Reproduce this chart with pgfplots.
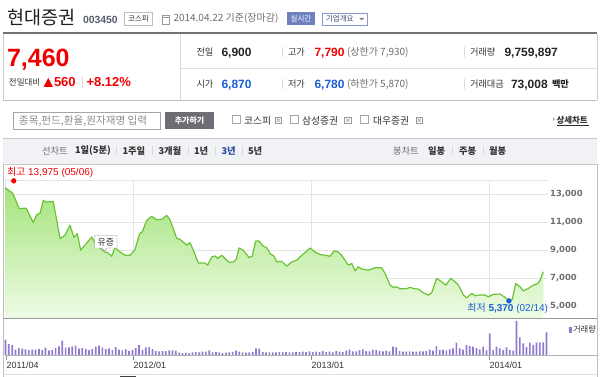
\documentclass[border=0pt]{standalone}
\usepackage{fontspec}
\setmainfont{Liberation Sans}
\newfontfamily\kr{Noto Sans CJK KR}
\newfontfamily\dv{DejaVu Sans}
\usepackage{pgfplots}
\usepackage{pgfplotstable}
\pgfplotsset{compat=1.18}
\newcommand\fs[1]{\fontsize{#1}{#1}\selectfont}
\definecolor{upred}{RGB}{240,0,0}
\definecolor{dnblue}{RGB}{25,95,215}
\definecolor{linegreen}{RGB}{104,196,50}
\definecolor{gtop}{RGB}{165,228,125}
\definecolor{gbot}{RGB}{238,251,228}
\definecolor{gridc}{RGB}{228,228,228}
\definecolor{volc}{RGB}{145,122,206}
\definecolor{txt}{RGB}{51,51,51}
\definecolor{lbl}{RGB}{110,110,110}
\definecolor{bandc}{RGB}{240,242,245}
\definecolor{codec}{RGB}{85,95,110}
\definecolor{rtblue}{RGB}{110,128,192}
\definecolor{boxblue}{RGB}{140,150,200}
\definecolor{selblue}{RGB}{40,70,160}
\definecolor{btn}{RGB}{108,110,116}

\pgfplotstableread{
t p
2011.281 13480
2011.324 13090
2011.361 11980
2011.399 12020
2011.440 10980
2011.459 11550
2011.478 11660
2011.496 12570
2011.515 12450
2011.552 12500
2011.590 9840
2011.618 10070
2011.646 10790
2011.669 9910
2011.687 10190
2011.706 9000
2011.740 9520
2011.768 9950
2011.787 9480
2011.815 9140
2011.843 8880
2011.861 8810
2011.880 8570
2011.899 9190
2011.927 8880
2011.955 8640
2011.983 8640
2012.011 9040
2012.037 10190
2012.052 10310
2012.077 11140
2012.105 11430
2012.133 11190
2012.161 11210
2012.189 11500
2012.208 11190
2012.246 9840
2012.264 9790
2012.302 9360
2012.320 9550
2012.339 9000
2012.367 8090
2012.404 8090
2012.420 7930
2012.442 8520
2012.461 8590
2012.476 8410
2012.498 8640
2012.517 8410
2012.541 8120
2012.563 8160
2012.579 8340
2012.596 9160
2012.620 9000
2012.652 8480
2012.670 8570
2012.689 9660
2012.708 9660
2012.732 9290
2012.751 9190
2012.770 8760
2012.792 8570
2012.807 8160
2012.835 8210
2012.863 7860
2012.892 8160
2012.920 8290
2012.948 8640
2012.976 8930
2012.994 9160
2013.022 8880
2013.051 8690
2013.079 8640
2013.107 8570
2013.129 8950
2013.153 8880
2013.172 8640
2013.210 7930
2013.229 8050
2013.247 7520
2013.266 7810
2013.285 7660
2013.322 7570
2013.360 7740
2013.397 7740
2013.416 7340
2013.444 6500
2013.462 6340
2013.481 6380
2013.500 6240
2013.538 6250
2013.556 6340
2013.575 6260
2013.603 6210
2013.637 5910
2013.659 5790
2013.678 5950
2013.706 6980
2013.734 6740
2013.757 6500
2013.785 6980
2013.809 6740
2013.828 6500
2013.856 5790
2013.875 5590
2013.903 5910
2013.921 5740
2013.949 5790
2013.978 5790
2013.996 5660
2014.024 5840
2014.062 5860
2014.086 5660
2014.112 5380
2014.131 5480
2014.150 6620
2014.174 6380
2014.193 6090
2014.221 6260
2014.249 6500
2014.274 6620
2014.287 6860
2014.305 7460
}\price

\begin{document}
\begin{tikzpicture}
\fill[white] (0pt,0pt) rectangle (600pt,-377pt);
\path[use as bounding box] (0pt,0pt) rectangle (600pt,-377pt);

\begin{scope}[x=1pt,y=-1pt, every node/.style={inner sep=0pt, outer sep=0pt}]
% ---------- header ----------
\node[anchor=west, text=black!88] at (7.5,18) {\kr\fs{18.5}현대증권};
\node[anchor=west, text=codec] at (83,19.5) {\bfseries\fs{10.4}003450};
\draw[black!25, fill=white] (124.5,12.5) rectangle (152.5,25);
\node[text=txt] at (138.5,18.8) {\kr\fs{7.5}코스피};
\draw[black!40] (162,15) rectangle (169,24);
\draw[black!40] (162,17) -- (169,17);
\node[anchor=west, text=lbl] at (173.5,18.5) {\kr\fs{10}2014.04.22 기준(장마감)};
\fill[rtblue] (287,12.5) rectangle (315,25);
\node[text=white] at (301,18.8) {\kr\fs{7.5}실시간};
\draw[boxblue, fill=white] (322.5,13) rectangle (367,25.5);
\node[anchor=west, text={rgb,255:red,60;green,70;blue,110}] at (326,19) {\kr\fs{7.5}기업개요};
\fill[black!50] (359.5,18) -- (364,18) -- (361.75,20.5) -- cycle;
\draw[line width=2pt, black!55] (3,33.5) -- (597,33.5);

% ---------- info table ----------
\draw[black!15] (180,34.5) -- (180,100.5);
\draw[black!12] (180,68.3) -- (597,68.3);
\draw[black!25] (3,100.5) -- (597,100.5);
\draw[black!20] (597,34.5) -- (597,100.5);
\draw[black!20] (3,34.5) -- (3,100.5);
\node[anchor=base west, text=upred] at (7,66.7) {\bfseries\fs{25}7,460};
\node[anchor=west, text=txt] at (9,82) {\kr\fs{8.5}전일대비};
\fill[upred] (43.5,87) -- (53,87) -- (48.25,78) -- cycle;
\node[anchor=base west, text=upred] at (54,86.7) {\bfseries\fs{13}560};
\draw[black!15] (82,77.5) -- (82,88);
\node[anchor=base west, text=upred] at (86.5,86.7) {\bfseries\fs{13}+8.12\%};
% row 1
\node[anchor=west, text=txt] at (196.5,52) {\kr\fs{9.2}전일};
\node[anchor=base west, text=black!85] at (221.5,57) {\bfseries\fs{12}6,900};
\draw[black!15] (282.5,47) -- (282.5,57);
\node[anchor=west, text=txt] at (288,52) {\kr\fs{9.2}고가};
\node[anchor=base west, text=upred] at (314.5,57) {\bfseries\fs{12}7,790};
\node[anchor=west, text=lbl] at (347,52) {\kr\fs{10}(상한가 7,930)};
\draw[black!15] (464.5,47) -- (464.5,57);
\node[anchor=west, text=txt] at (470,52) {\kr\fs{9.2}거래량};
\node[anchor=base west, text=black!85] at (504.5,57) {\bfseries\fs{12}9,759,897};
% row 2
\node[anchor=west, text=txt] at (196.5,84) {\kr\fs{9.2}시가};
\node[anchor=base west, text=dnblue] at (221.5,88.5) {\bfseries\fs{12}6,870};
\draw[black!15] (282.5,79) -- (282.5,89);
\node[anchor=west, text=txt] at (288,84) {\kr\fs{9.2}저가};
\node[anchor=base west, text=dnblue] at (314.5,88.5) {\bfseries\fs{12}6,780};
\node[anchor=west, text=lbl] at (347,84) {\kr\fs{10}(하한가 5,870)};
\draw[black!15] (464.5,79) -- (464.5,89);
\node[anchor=west, text=txt] at (470,84) {\kr\fs{9.2}거래대금};
\node[anchor=base west, text=black!85] at (511,88.5) {\bfseries\fs{12}73,008};
\node[anchor=west, text=black!85] at (552,84) {\kr\bfseries\fs{9.2}백만};

% ---------- search row ----------
\draw[black!35, fill=white] (13.5,112) rectangle (160,129);
\node[anchor=west, text=black!45] at (19,120.7) {\kr\fs{10.6}종목,펀드,환율,원자재명 입력};
\fill[btn] (165,112) rectangle (214,129.5);
\node[text=white] at (189.5,120.8) {\kr\bfseries\fs{8}추가하기};
\draw[black!35, fill=white] (232,115.5) rectangle (240,123.5);
\node[anchor=west, text=txt] at (244,120.5) {\kr\fs{9.8}코스피};
\draw[black!40] (275,117) rectangle (281.5,123.5);
\draw[black!40] (276.5,118.5) -- (280,122) (276.5,122) -- (280,118.5);
\draw[black!35, fill=white] (290,115.5) rectangle (298,123.5);
\node[anchor=west, text=txt] at (302,120.5) {\kr\fs{9.8}삼성증권};
\draw[black!40] (344.5,117) rectangle (351,123.5);
\draw[black!40] (346,118.5) -- (349.5,122) (346,122) -- (349.5,118.5);
\draw[black!35, fill=white] (360,115.5) rectangle (368,123.5);
\node[anchor=west, text=txt] at (373,120.5) {\kr\fs{9.8}대우증권};
\draw[black!40] (416,117) rectangle (422.5,123.5);
\draw[black!40] (417.5,118.5) -- (421,122) (417.5,122) -- (421,118.5);
\node[anchor=west, text=txt] at (552.5,120) {\fs{7}›};
\node[anchor=west, text=txt] at (556.5,120.5) {\kr\bfseries\fs{8.5}상세차트};
\draw[txt] (556.5,125) -- (589,125);

% ---------- tab band ----------
\fill[bandc] (3,138) rectangle (597,164);
\draw[black!22] (3,138) -- (597,138);
\draw[black!22] (3,164) -- (597,164);
\node[anchor=west, text=lbl] at (42,150.7) {\kr\fs{9.3}선차트};
\node[anchor=west, text=txt] at (75,150.7) {\kr\bfseries\fs{9.3}1일(5분)};
\draw[black!15] (116.5,146) -- (116.5,155.5);
\node[anchor=west, text=txt] at (122.5,150.7) {\kr\bfseries\fs{9.3}1주일};
\draw[black!15] (152.5,146) -- (152.5,155.5);
\node[anchor=west, text=txt] at (158.5,150.7) {\kr\bfseries\fs{9.3}3개월};
\draw[black!15] (188.5,146) -- (188.5,155.5);
\node[anchor=west, text=txt] at (194,150.7) {\kr\bfseries\fs{9.3}1년};
\draw[black!15] (215.5,146) -- (215.5,155.5);
\node[anchor=west, text=selblue] at (221.5,150.7) {\kr\bfseries\fs{9.3}3년};
\draw[black!15] (242.5,146) -- (242.5,155.5);
\node[anchor=west, text=txt] at (248,150.7) {\kr\bfseries\fs{9.3}5년};
\node[anchor=west, text=lbl] at (393,150.7) {\kr\fs{9.3}봉차트};
\node[anchor=west, text=txt] at (428,150.7) {\kr\bfseries\fs{9.3}일봉};
\draw[black!15] (452.5,146) -- (452.5,155.5);
\node[anchor=west, text=txt] at (459,150.7) {\kr\bfseries\fs{9.3}주봉};
\draw[black!15] (483.5,146) -- (483.5,155.5);
\node[anchor=west, text=txt] at (489,150.7) {\kr\bfseries\fs{9.3}월봉};

% chart box
\draw[black!25] (3,164) -- (3,377);
\draw[black!25] (597,164) -- (597,377);
\draw[black!12] (5.5,179) -- (5.5,318);
\end{scope}

% ---------- price panel ----------
\begin{axis}[
  at={(5pt,-318pt)}, anchor=south west,
  scale only axis, width=543pt, height=137.5pt,
  xmin=2011.2809, xmax=2014.3315, ymin=4143, ymax=14000,
  clip=false,
  scaled y ticks=false, scaled x ticks=false,
  axis line style={draw=none},
  major tick length=0pt,
  tick style={draw=none},
  xtick={2012,2013,2014}, xticklabels={},
  ytick={5000,7000,9000,11000,13000,14000},
  yticklabels={{5,000},{7,000},{9,000},{11,000},{13,000},{}},
  yticklabel pos=right,
  yticklabel style={anchor=west, inner sep=0pt, xshift=2pt, text=lbl,
    font=\dv\bfseries\fs{8.4}},
  xmajorgrids, ymajorgrids,
  major grid style={draw=gridc, line width=0.8pt},
]
\addplot[draw=none, top color=gtop, bottom color=gbot, forget plot]
  table[x=t, y=p] {\price} -- (axis cs:2014.305,4143) -- (axis cs:2011.281,4143) -- cycle;
\addplot[color=linegreen, line width=1.2pt, mark=none, line join=round]
  table[x=t, y=p] {\price};
\addplot[only marks, mark=*, mark size=2.4pt, color=red, mark options={draw=red, fill=red}]
  coordinates {(2011.33,13975)};
\addplot[only marks, mark=*, mark size=2.4pt, color=dnblue, mark options={draw=dnblue, fill=dnblue}]
  coordinates {(2014.112,5370)};
\end{axis}

% ---------- volume panel ----------
\begin{axis}[
  at={(5pt,-355pt)}, anchor=south west,
  scale only axis, width=543pt, height=35pt,
  xmin=-0.15, xmax=162.43, ymin=0, ymax=35,
  clip=false,
  scaled y ticks=false,
  axis line style={draw=none},
  ybar, bar width=1.7pt,
  ytick=\empty,
  xtick={0.15,38.17,91.47,144.76},
  xticklabels={2011/04,2012/01,2013/01,2014/01},
  xtick pos=lower, xtick align=outside,
  major tick length=5pt,
  tick style={draw=black!45, line width=0.6pt},
  xticklabel style={anchor=north west, inner sep=0pt, yshift=-2pt, xshift=0.5pt,
    text=txt, font=\fs{9}},
]
\addplot[fill=volc, draw=none] coordinates {
(0,15.3) (1,11) (2,10) (3,5.3) (4,7) (5,6.3) (6,5.7) (7,5) (8,5.3) (9,5.3)
(10,6) (11,5) (12,7.3) (13,4.7) (14,5) (15,7) (16,8.7) (17,14.3) (18,7.3) (19,7.7)
(20,8.7) (21,9.3) (22,6.3) (23,7) (24,6) (25,5) (26,6) (27,8.3) (28,9.3) (29,7.3)
(30,6) (31,6.7) (32,5) (33,8) (34,5.3) (35,4.7) (36,5.7) (37,4) (38,5) (39,7)
(40,10) (41,5) (42,7.7) (43,8) (44,6) (45,4) (46,3.7) (47,4) (48,4) (49,4.7)
(50,4.7) (51,4.3) (52,2.3) (53,2) (54,2.3) (55,2) (56,2.7) (57,3) (58,2.7) (59,3.3)
(60,3.3) (61,4.7) (62,2.7) (63,3) (64,2.7) (65,2) (66,2.3) (67,2.7) (68,3) (69,4.3)
(70,3.3) (71,2.7) (72,2.3) (73,2.7) (74,3) (75,6.7) (76,6.3) (77,3) (78,2.7) (79,2.7)
(80,2.7) (81,2.7) (82,3) (83,2.7) (84,3) (85,2.7) (86,2.7) (87,3) (88,3) (89,3.3)
(90,3) (91,3.7) (92,3) (93,3.3) (94,3) (95,4) (96,3) (97,3.3) (98,2.7) (99,4)
(100,3.3) (101,3) (102,4.3) (103,5.3) (104,3.7) (105,3.7) (106,5) (107,5.7) (108,4) (109,3.7)
(110,5.3) (111,5) (112,4) (113,3.7) (114,4.3) (115,3.7) (116,8.3) (117,7.7) (118,4) (119,3.3)
(120,3.3) (121,3.7) (122,3.3) (123,3.3) (124,3.7) (125,3.7) (126,4) (127,5.3) (128,4.3) (129,9)
(130,5) (131,5.3) (132,4.7) (133,5.7) (134,6.7) (135,12.3) (136,6.7) (137,5.3) (138,10) (139,9)
(140,8.3) (141,7) (142,5.7) (143,8.3) (144,4.7) (145,21.7) (146,5) (147,8.3) (148,6.7) (149,5)
(150,7.7) (151,5) (152,4.3) (153,34) (154,17.7) (155,11.7) (156,8) (157,12.3) (158,10) (159,12.3)
(160,12.7) (161,12.7) (162,22.7)
};
\end{axis}

% ---------- overlays ----------
\begin{scope}[x=1pt,y=-1pt, every node/.style={inner sep=0pt, outer sep=0pt}]
\draw[line width=1.6pt, black!40] (3,318.5) -- (597,318.5);
\draw[black!30] (5,355.5) -- (597,355.5);
\draw[black!12] (3,374.5) -- (597,374.5);
\fill[black!75] (120,375.5) rectangle (136,377);
\node[anchor=west, text=upred] at (7,172) {\kr\fs{10}최고\rmfamily\ 13,975 (05/06)};
\node[anchor=east, text=dnblue] at (548,308.5) {\kr\fs{10}최저\rmfamily\ \bfseries 5,370 \mdseries(02/14)};
\draw[black!45, fill=white] (94.5,235.5) -- (117,235.5) -- (117,248) -- (107,248) -- (104,251.5) -- (102.5,248) -- (94.5,248) -- cycle;
\node[text=txt] at (105.8,241.8) {\kr\fs{9}유증};
\fill[volc] (568.5,326.5) rectangle (571.5,333);
\node[anchor=west, text=txt] at (573,329.5) {\kr\fs{8.3}거래량};
\end{scope}
\end{tikzpicture}
\end{document}
